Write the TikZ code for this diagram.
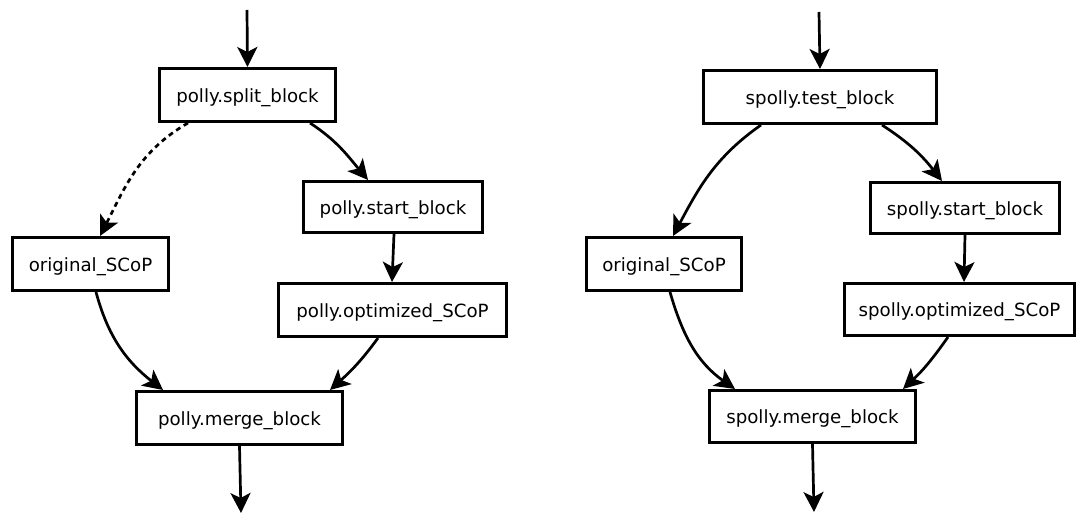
\documentclass[tikz,border=0pt]{standalone}
\usepackage{fontspec}
\setmainfont{DejaVu Sans}
\usetikzlibrary{arrows.meta}

\begin{document}
\begin{tikzpicture}[x=1pt,y=1pt,
  blk/.style={draw, line width=2.8pt, rectangle, inner sep=0pt,
    font=\fontsize{18.2}{21}\selectfont, text height=14pt, text depth=0pt},
  edge/.style={line width=2.7pt, line join=miter,
    -{Stealth[length=20pt,width=20pt,inset=5pt]}},
  weak/.style={edge, dash pattern=on 5pt off 4pt}]
\useasboundingbox (0,0) rectangle (1077,-514);

% ---- polly: split / start / optimized / merge ----
\node[blk, minimum width=176.2pt, minimum height=53.2pt] (split)  at (247.5,-95)  {polly.split\_block};
\node[blk, minimum width=179.2pt, minimum height=51.2pt] (start1) at (393,-207)   {polly.start\_block};
\node[blk, minimum width=156.2pt, minimum height=53.2pt] (orig1)  at (90.5,-264)  {original\_SCoP};
\node[blk, minimum width=228.2pt, minimum height=53.2pt] (opt1)   at (392.5,-310) {polly.optimized\_SCoP};
\node[blk, minimum width=206.2pt, minimum height=53.2pt] (merge1) at (239.5,-418) {polly.merge\_block};
\coordinate (in1)  at (247,-10);
\coordinate (out1) at (241,-513);

\draw[edge] (in1) -- (split.north);
\draw[weak] ([xshift=-59.5pt]split.south) to[out=210,in=63] ([xshift=9.5pt]orig1.north);
\draw[edge] ([xshift=62.5pt]split.south) to[out=-33,in=130] ([xshift=-25pt]start1.north);
\draw[edge] ([xshift=1pt]start1.south) -- ([xshift=-0.5pt]opt1.north);
\draw[edge] ([xshift=5.5pt]orig1.south) to[out=-75,in=142] ([xshift=-76.5pt]merge1.north);
\draw[edge] ([xshift=-14.5pt]opt1.south) to[out=-126,in=42] ([xshift=90.5pt]merge1.north);
\draw[edge] (merge1.south) -- (out1);

% ---- spolly: test / start / optimized / merge ----
\node[blk, minimum width=233.2pt, minimum height=53.2pt] (test)   at (820,-97)     {spolly.test\_block};
\node[blk, minimum width=189.2pt, minimum height=51.2pt] (start2) at (965,-208)    {spolly.start\_block};
\node[blk, minimum width=155.2pt, minimum height=53.2pt] (orig2)  at (664,-264)    {original\_SCoP};
\node[blk, minimum width=230.2pt, minimum height=52.2pt] (opt2)   at (959.5,-309.5) {spolly.optimized\_SCoP};
\node[blk, minimum width=206.2pt, minimum height=52.2pt] (merge2) at (812.5,-416.5) {spolly.merge\_block};
\coordinate (in2)  at (819,-12);
\coordinate (out2) at (814,-512);

\draw[edge] (in2) -- (test.north);
\draw[edge] ([xshift=-59pt]test.south) to[out=215,in=62] ([xshift=9pt]orig2.north);
\draw[edge] ([xshift=62pt]test.south) to[out=-33,in=128] ([xshift=-23pt]start2.north);
\draw[edge] (start2.south) -- ([xshift=4.5pt]opt2.north);
\draw[edge] ([xshift=6pt]orig2.south) to[out=-74,in=145] ([xshift=-77.5pt]merge2.north);
\draw[edge] ([xshift=-11.5pt]opt2.south) to[out=-125,in=43] ([xshift=90.5pt]merge2.north);
\draw[edge] (merge2.south) -- (out2);
\end{tikzpicture}
\end{document}
